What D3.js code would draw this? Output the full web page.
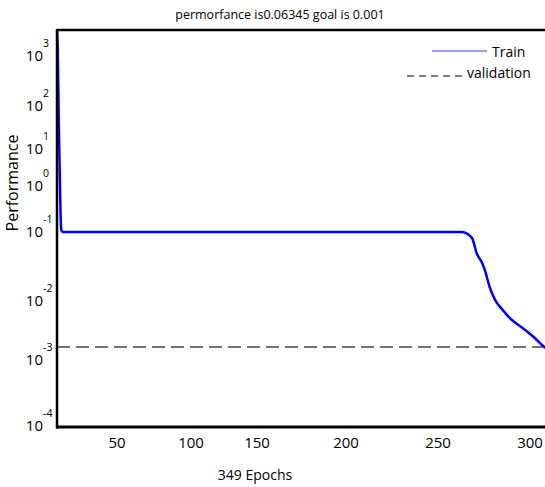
<!DOCTYPE html>
<html>
<head>
<meta charset="utf-8">
<script src="https://cdn.jsdelivr.net/npm/d3@7"></script>
<style>
  body { margin: 0; background: #fff; }
  text { font-family: "Open Sans", sans-serif; fill: #000; }
</style>
</head>
<body>
<svg id="chart" width="545" height="487"></svg>
<script>
// ---- data ----
const epochs = [0, 0.5, 1.5, 2.5, 3, 3.5, 4.5, 100, 200, 263, 265, 268.5, 271, 274, 275.5, 278, 281, 285, 290, 296, 302, 307, 309];
const train  = [1800, 1000, 20, 0.5, 0.12, 0.07, 0.065, 0.065, 0.065, 0.065, 0.063, 0.053, 0.032, 0.023, 0.018, 0.0105, 0.0063, 0.0043, 0.0029, 0.0021, 0.00148, 0.00105, 0.00095];
const goal = 0.001;
const xTicks = [50, 100, 150, 200, 250, 300];
const yTicks = [1e-4, 1e-3, 1e-2, 1e-1, 1, 10, 100, 1000];
const yExp = ["-4", "-3", "-2", "-1", "0", "1", "2", "3"];

const svg = d3.select("#chart");
const pLeft = 57, pRight = 545, pTop = 30, pBottom = 427;

// axis labels in the figure are unevenly spaced, so the scales are piecewise
const x = d3.scaleLinear()
  .domain([0, 50, 100, 150, 200, 250, 300])
  .range([57, 117, 191, 257, 346, 438, 530]);

const y = d3.scaleLog()
  .domain(yTicks)
  .range([413, 347, 288, 219, 173, 136, 93, 43]);

svg.append("clipPath").attr("id", "clip")
  .append("rect").attr("x", pLeft).attr("y", pTop).attr("width", pRight - pLeft).attr("height", pBottom - pTop);

// title
svg.append("text").attr("x", 280).attr("y", 19).attr("text-anchor", "middle")
  .attr("font-size", 12.5).text("permorfance is0.06345 goal is 0.001");

// goal / validation dashed line
svg.append("line")
  .attr("x1", pLeft).attr("x2", pRight)
  .attr("y1", y(goal)).attr("y2", y(goal))
  .attr("stroke", "#444").attr("stroke-width", 1.5).attr("stroke-dasharray", "13,6");

// train curve
const line = d3.line().x((d, i) => x(epochs[i])).y(d => y(d)).curve(d3.curveMonotoneX);
svg.append("path").datum(train)
  .attr("clip-path", "url(#clip)")
  .attr("d", line)
  .attr("fill", "none").attr("stroke", "#0000f0").attr("stroke-width", 2.5);

// frame: left, top, bottom
svg.append("line").attr("x1", pLeft).attr("x2", pRight).attr("y1", pTop).attr("y2", pTop)
  .attr("stroke", "#000").attr("stroke-width", 2.5);
svg.append("line").attr("x1", pLeft).attr("x2", pLeft).attr("y1", pTop - 1).attr("y2", pBottom + 1.5)
  .attr("stroke", "#000").attr("stroke-width", 2.5);
svg.append("line").attr("x1", pLeft - 1).attr("x2", pRight).attr("y1", pBottom).attr("y2", pBottom)
  .attr("stroke", "#000").attr("stroke-width", 3);

// x tick labels
svg.selectAll(".xt").data(xTicks).enter().append("text")
  .attr("x", d => x(d)).attr("y", 448).attr("text-anchor", "middle")
  .attr("font-size", 15).text(d => d);

// y tick labels: 10 with exponent
const yt = svg.selectAll(".yt").data(yTicks).enter().append("text")
  .attr("font-size", 15);
yt.append("tspan").attr("x", 43).attr("y", d => y(d) + 18).attr("text-anchor", "end").text("10");
yt.append("tspan").attr("x", 43).attr("y", d => y(d) + 4).attr("font-size", 10.5).text((d, i) => yExp[i]);

// axis titles
svg.append("text").attr("x", 255).attr("y", 480).attr("text-anchor", "middle")
  .attr("font-size", 14).text("349 Epochs");
svg.append("text").attr("transform", "translate(18,183) rotate(-90)").attr("text-anchor", "middle")
  .attr("font-size", 16).text("Performance");

// legend
svg.append("line").attr("x1", 432).attr("x2", 487).attr("y1", 51).attr("y2", 51)
  .attr("stroke", "#7b7bff").attr("stroke-width", 1.5);
svg.append("text").attr("x", 492).attr("y", 57).attr("font-size", 14).text("Train");
svg.append("line").attr("x1", 407).attr("x2", 464).attr("y1", 76).attr("y2", 76)
  .attr("stroke", "#555").attr("stroke-width", 1.3).attr("stroke-dasharray", "7,5");
svg.append("text").attr("x", 467).attr("y", 78).attr("font-size", 14).text("validation");
</script>
</body>
</html>
